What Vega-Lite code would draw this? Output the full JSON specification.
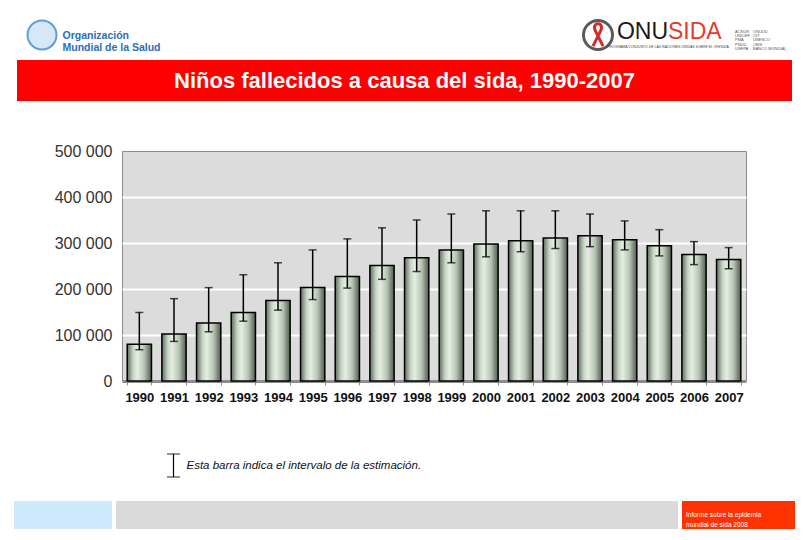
{
  "$schema": "https://vega.github.io/schema/vega-lite/v6.json",
  "padding": 0,
  "background": "white",
  "spacing": 0,
  "config": {"view": {"stroke": null}, "font": "Liberation Sans, Arial, sans-serif", "concat": {"spacing": 0}},
  "vconcat": [
    {"width": 1, "height": 14, "data": {"values": []}, "mark": "text"},
    {
      "spacing": 0, "bounds": "flush",
      "hconcat": [
        {"width": 27, "height": 42, "data": {"values": []}, "mark": "text"},
        {"width": 30, "height": 34, "data": {"values": [{}]},
         "mark": {"type": "point", "shape": "circle", "size": 840, "filled": true, "fill": "#d6e7f7", "stroke": "#5e9fd8", "strokeWidth": 2, "opacity": 1}},
        {"width": 5, "height": 1, "data": {"values": []}, "mark": "text"},
        {"width": 1, "height": 36, "data": {"values": [{}]},
         "mark": {"type": "text", "text": ["Organización", "Mundial de la Salud"], "align": "left", "baseline": "middle", "fontWeight": "bold", "fontSize": 10.5, "lineHeight": 12, "color": "#2a6ebb"}},
        {"width": 519, "height": 1, "data": {"values": []}, "mark": "text"},
        {"width": 32, "height": 34, "data": {"values": [{}]},
         "layer": [
           {"mark": {"type": "point", "shape": "circle", "size": 840, "filled": true, "fill": "white", "stroke": "#5a5a5a", "strokeWidth": 3, "opacity": 1}},
           {"mark": {"type": "point", "shape": "M-0.45,1 L0.2,-0.3 C0.45,-0.75 0.25,-1 0,-1 C-0.25,-1 -0.45,-0.75 -0.2,-0.3 L0.45,1", "size": 500, "filled": false, "stroke": "#d42a2a", "strokeWidth": 3, "opacity": 1}}
         ]},
        {"width": 108, "height": 28, "data": {"values": [{}]},
         "layer": [
           {"mark": {"type": "text", "text": "ONU", "align": "right", "baseline": "middle", "fontSize": 23, "color": "#1a1a1a"}},
           {"mark": {"type": "text", "text": "SIDA", "align": "left", "baseline": "middle", "fontSize": 23, "color": "#e53a2f"}},
           {"mark": {"type": "text", "text": "PROGRAMA CONJUNTO DE LAS NACIONES UNIDAS SOBRE EL VIH/SIDA", "align": "center", "baseline": "middle", "fontSize": 3.5, "dy": 15, "color": "#444444"}}
         ]},
        {"width": 12, "height": 1, "data": {"values": []}, "mark": "text"},
        {"width": 2, "height": 28, "data": {"values": [{}]},
         "mark": {"type": "text", "text": ["ACNUR", "UNICEF", "PMA", "PNUD", "UNFPA"], "align": "left", "baseline": "middle", "fontSize": 4, "lineHeight": 4.2, "color": "#555555"}},
        {"width": 16, "height": 1, "data": {"values": []}, "mark": "text"},
        {"width": 2, "height": 28, "data": {"values": [{}]},
         "mark": {"type": "text", "text": ["ONUDD", "OIT", "UNESCO", "OMS", "BANCO MUNDIAL"], "align": "left", "baseline": "middle", "fontSize": 4, "lineHeight": 4.2, "color": "#555555"}}
      ]
    },
    {
      "spacing": 0, "bounds": "flush",
      "hconcat": [
        {"width": 17, "height": 82, "data": {"values": []}, "mark": "text"},
        {"width": 775, "height": 41, "view": {"fill": "#ff0000", "stroke": null}, "data": {"values": [{}]},
         "mark": {"type": "text", "text": "Niños fallecidos a causa del sida, 1990-2007", "color": "white", "fontSize": 22, "fontWeight": "bold", "align": "center", "baseline": "middle"}}
      ]
    },
    {
      "spacing": 0, "bounds": "flush",
      "hconcat": [
        {"width": 122, "height": 302, "data": {"values": []}, "mark": "text"},
        {
          "width": 624, "height": 230,
          "view": {"fill": "#dcdcdc", "stroke": "#8c8c8c", "strokeWidth": 1},
          "data": {"values": [
            {"year": "1990", "deaths": 80000, "lo": 68000, "hi": 149000},
            {"year": "1991", "deaths": 102000, "lo": 86000, "hi": 179000},
            {"year": "1992", "deaths": 126000, "lo": 107000, "hi": 203000},
            {"year": "1993", "deaths": 149000, "lo": 130000, "hi": 231000},
            {"year": "1994", "deaths": 175000, "lo": 154000, "hi": 257000},
            {"year": "1995", "deaths": 203000, "lo": 177000, "hi": 285000},
            {"year": "1996", "deaths": 227000, "lo": 202000, "hi": 309000},
            {"year": "1997", "deaths": 251000, "lo": 221000, "hi": 333000},
            {"year": "1998", "deaths": 268000, "lo": 238000, "hi": 350000},
            {"year": "1999", "deaths": 285000, "lo": 257000, "hi": 363000},
            {"year": "2000", "deaths": 298000, "lo": 270000, "hi": 370000},
            {"year": "2001", "deaths": 305000, "lo": 281000, "hi": 370000},
            {"year": "2002", "deaths": 311000, "lo": 288000, "hi": 370000},
            {"year": "2003", "deaths": 316000, "lo": 292000, "hi": 363000},
            {"year": "2004", "deaths": 307000, "lo": 285000, "hi": 348000},
            {"year": "2005", "deaths": 294000, "lo": 272000, "hi": 329000},
            {"year": "2006", "deaths": 275000, "lo": 253000, "hi": 303000},
            {"year": "2007", "deaths": 264000, "lo": 244000, "hi": 290000}
          ]},
          "encoding": {
            "x": {"field": "year", "type": "ordinal", "title": null,
                  "scale": {"paddingInner": 0.3, "paddingOuter": 0.15},
                  "axis": {"labelAngle": 0, "labelFontSize": 13, "labelFontWeight": "bold", "labelFont": "Liberation Sans, Arial, sans-serif", "labelColor": "#111111", "tickBand": "extent", "tickColor": "#8c8c8c", "tickSize": 4, "domainColor": "#8c8c8c", "domainWidth": 3, "labelPadding": 6, "grid": false}}
          },
          "layer": [
            {
              "mark": {"type": "bar", "stroke": "black", "strokeWidth": 1.5,
                       "fill": {"gradient": "linear", "x1": 0, "x2": 1, "y1": 0, "y2": 0,
                                "stops": [
                                  {"offset": 0, "color": "#5f6b5e"},
                                  {"offset": 0.25, "color": "#c9d6c7"},
                                  {"offset": 0.42, "color": "#e4efe1"},
                                  {"offset": 0.7, "color": "#b8c4b5"},
                                  {"offset": 1, "color": "#4f5a4e"}
                                ]}},
              "encoding": {
                "y": {"field": "deaths", "type": "quantitative", "title": null,
                      "scale": {"domain": [0, 500000]},
                      "axis": {"values": [0, 100000, 200000, 300000, 400000, 500000],
                               "labelExpr": "replace(format(datum.value, ','), ',', ' ')",
                               "ticks": false, "tickSize": 0, "domain": false, "grid": true,
                               "gridColor": {"condition": {"test": "datum.value >= 500000", "value": "transparent"}, "value": "#ffffff"},
                               "gridWidth": 2, "labelFontSize": 16, "labelColor": "#333333", "labelPadding": 10,
                               "labelFont": "Liberation Sans, Arial, sans-serif"}}
              }
            },
            {
              "mark": {"type": "errorbar", "ticks": true, "color": "black", "thickness": 1.5, "size": 8},
              "encoding": {
                "y": {"field": "lo", "type": "quantitative", "title": null},
                "y2": {"field": "hi"}
              }
            }
          ]
        }
      ]
    },
    {
      "spacing": 0, "bounds": "flush",
      "hconcat": [
        {"width": 167, "height": 47, "data": {"values": []}, "mark": "text"},
        {"width": 13, "height": 23, "data": {"values": [{"k": "a", "lo": 0, "hi": 1}]},
         "mark": {"type": "errorbar", "ticks": true, "color": "black", "thickness": 1.2, "size": 13},
         "encoding": {
           "x": {"field": "k", "type": "nominal", "axis": null},
           "y": {"field": "lo", "type": "quantitative", "scale": {"domain": [0, 1]}, "axis": null},
           "y2": {"field": "hi"}
         }},
        {"width": 6, "height": 1, "data": {"values": []}, "mark": "text"},
        {"width": 1, "height": 23, "data": {"values": [{}]},
         "mark": {"type": "text", "text": "Esta barra indica el intervalo de la estimación.", "align": "left", "baseline": "middle", "fontStyle": "italic", "fontSize": 11.5, "color": "#111111"}}
      ]
    },
    {
      "spacing": 0, "bounds": "flush",
      "hconcat": [
        {"width": 14, "height": 28, "data": {"values": []}, "mark": "text"},
        {"width": 98, "height": 28, "view": {"fill": "#cde9fb", "stroke": null}, "data": {"values": []}, "mark": "text"},
        {"width": 4, "height": 28, "data": {"values": []}, "mark": "text"},
        {"width": 562, "height": 28, "view": {"fill": "#dadada", "stroke": null}, "data": {"values": []}, "mark": "text"},
        {"width": 4, "height": 28, "data": {"values": []}, "mark": "text"},
        {"width": 113, "height": 28, "view": {"fill": "#ff3300", "stroke": null}, "data": {"values": [{}]},
         "mark": {"type": "text", "text": ["Informe sobre la epidemia", "mundial de sida 2008"], "align": "left", "baseline": "middle", "dx": -52.5, "fontSize": 6.5, "lineHeight": 10, "color": "white"}}
      ]
    }
  ]
}
